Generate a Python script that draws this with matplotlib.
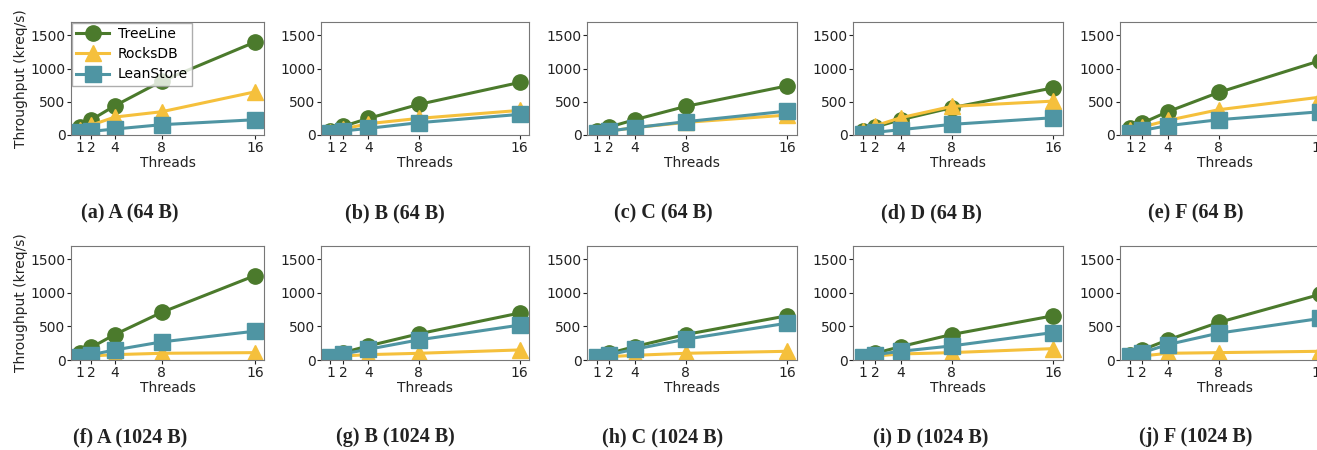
import matplotlib.pyplot as plt

# --- Data ---
threads = [1, 2, 4, 8, 16]
systems = ["TreeLine", "RocksDB", "LeanStore"]

captions_top = ["(a) A (64 B)", "(b) B (64 B)", "(c) C (64 B)", "(d) D (64 B)", "(e) F (64 B)"]
captions_bot = ["(f) A (1024 B)", "(g) B (1024 B)", "(h) C (1024 B)", "(i) D (1024 B)", "(j) F (1024 B)"]

# throughput (kreq/s), one list per panel
treeline_64 = [
    [120, 230, 440, 810, 1400],
    [60, 130, 250, 460, 790],
    [60, 120, 230, 430, 740],
    [60, 120, 230, 410, 710],
    [100, 180, 350, 640, 1120],
]
rocksdb_64 = [
    [80, 150, 270, 350, 650],
    [40, 90, 170, 250, 370],
    [30, 60, 110, 190, 300],
    [60, 140, 260, 430, 510],
    [70, 120, 220, 380, 570],
]
leanstore_64 = [
    [40, 55, 90, 155, 230],
    [30, 60, 100, 185, 310],
    [30, 60, 110, 200, 360],
    [20, 40, 80, 160, 260],
    [30, 70, 140, 230, 350],
]
treeline_1024 = [
    [100, 190, 380, 710, 1260],
    [50, 110, 210, 390, 700],
    [50, 100, 200, 380, 660],
    [50, 100, 200, 380, 660],
    [80, 150, 300, 560, 980],
]
rocksdb_1024 = [
    [40, 60, 80, 100, 110],
    [40, 60, 80, 100, 150],
    [30, 50, 70, 100, 130],
    [30, 60, 90, 110, 170],
    [40, 60, 100, 110, 130],
]
leanstore_1024 = [
    [50, 80, 150, 270, 430],
    [40, 90, 160, 300, 520],
    [40, 80, 160, 310, 550],
    [40, 80, 130, 210, 410],
    [60, 110, 230, 400, 620],
]

colors = {"TreeLine": "#4b7a2c", "RocksDB": "#f5c03c", "LeanStore": "#4f95a3"}
markers = {"TreeLine": "o", "RocksDB": "^", "LeanStore": "s"}

W, H = 1317, 450
fig = plt.figure(figsize=(W / 100, H / 100), dpi=100)

# pixel positions of the axes (left, width) per column, (top, height) per row
# the last column runs past the right edge, as in the original figure
col_left = [71, 321, 587, 853, 1120]
col_width = [193, 208, 210, 210, 210]
col_center = [130, 395, 663, 931, 1196]
row_top = [22, 246]
row_height = [113, 114]
caption_y = [213, 437]

rows = [
    (treeline_64, rocksdb_64, leanstore_64, captions_top),
    (treeline_1024, rocksdb_1024, leanstore_1024, captions_bot),
]

for r, (tl, rd, ls, caps) in enumerate(rows):
    for c in range(5):
        left = col_left[c] / W
        bottom = 1 - (row_top[r] + row_height[r]) / H
        ax = fig.add_axes([left, bottom, col_width[c] / W, row_height[r] / H])
        for name, vals in zip(systems, [tl[c], rd[c], ls[c]]):
            ax.plot(threads, vals, color=colors[name], marker=markers[name],
                    markersize=11, linewidth=2.2, label=name)
        ax.set_ylim(0, 1700)
        ax.set_xticks(threads)
        ax.set_yticks([0, 500, 1000, 1500])
        ax.tick_params(labelsize=10, colors="#222222", length=3, pad=1)
        for sp in ax.spines.values():
            sp.set_color("#777777")
        ax.set_xlabel("Threads", fontsize=10, color="#222222", labelpad=1)
        if c == 0:
            ax.set_ylabel("Throughput (kreq/s)", fontsize=10, color="#222222", labelpad=2)
        if r == 0 and c == 0:
            ax.legend(loc="upper left", fontsize=10, borderpad=0.3,
                      handlelength=2.4, labelspacing=0.45, borderaxespad=0.05,
                      handletextpad=0.6, framealpha=0.8, edgecolor="#999999",
                      fancybox=False)
        fig.text(col_center[c] / W, 1 - caption_y[r] / H, caps[c],
                 ha="center", va="center", fontsize=14.5, fontweight="bold",
                 family="Liberation Serif", color="#222222")

fig.savefig("out.png", dpi=100)
